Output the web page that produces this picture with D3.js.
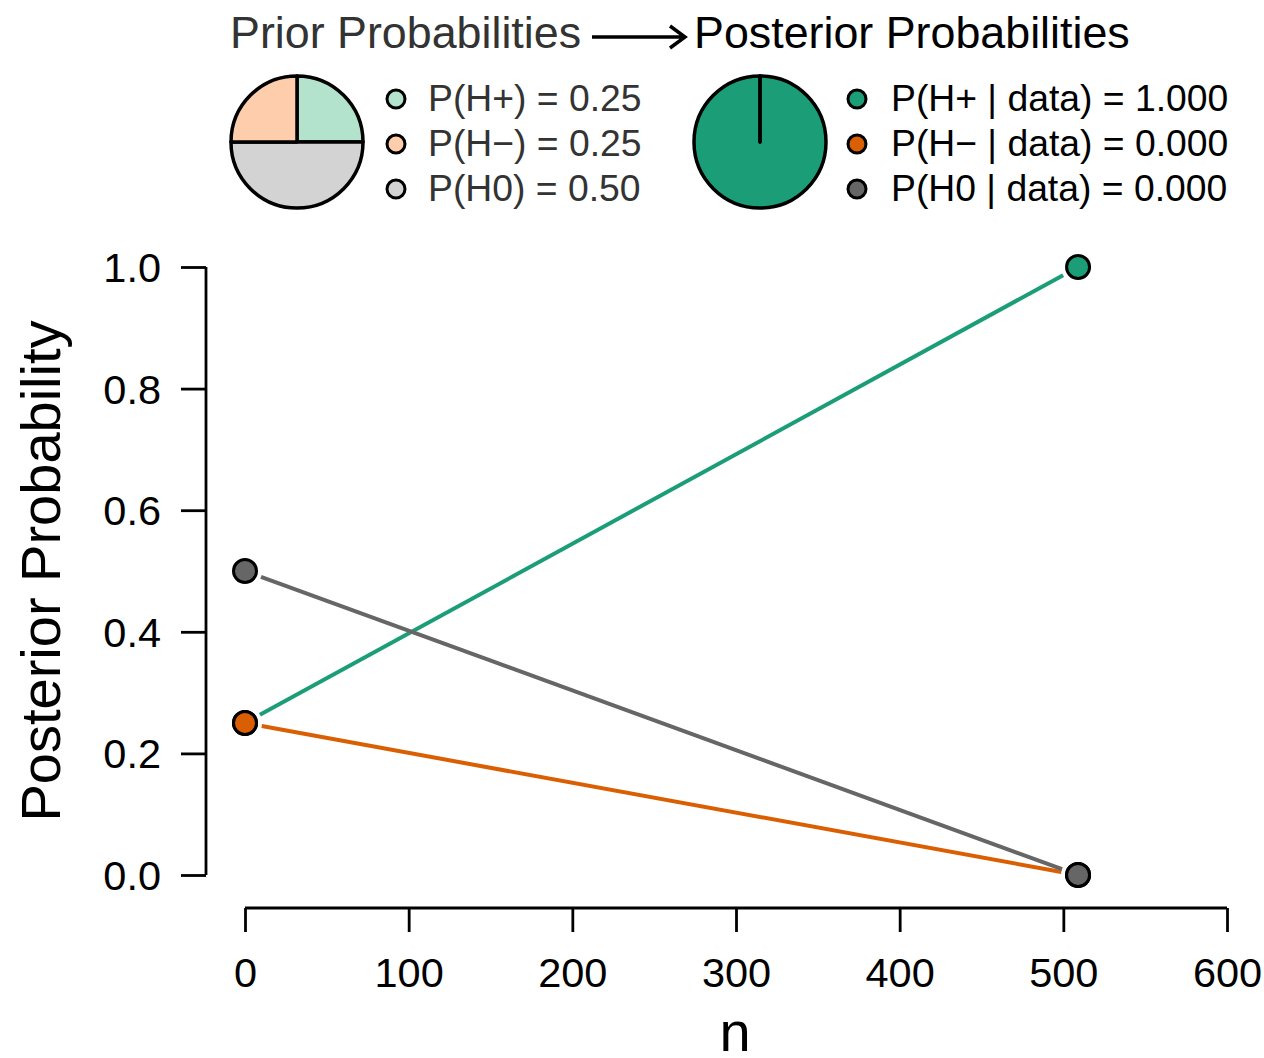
<!DOCTYPE html>
<html>
<head>
<meta charset="utf-8">
<script src="https://cdn.jsdelivr.net/npm/d3@7"></script>
<style>
  body { margin: 0; background: #fff; }
  text { font-family: "Liberation Sans", Arial, sans-serif; }
</style>
</head>
<body>
<svg width="1264" height="1058"></svg>
<script>
// the data
var hypotheses = ["H+", "H\u2212", "H0"];
var nValues = [0, 509];
var probHplus = [0.25, 1.0];
var probHminus = [0.25, 0.0];
var probH0 = [0.5, 0.0];
var darkColors = ["#1b9e77", "#d95f02", "#666666"];
var lightColors = ["#b3e2cd", "#fdcdac", "#d3d3d3"];
var xTicks = [0, 100, 200, 300, 400, 500, 600];
var yTicks = [0, 0.2, 0.4, 0.6, 0.8, 1.0];

var series = [probHplus, probHminus, probH0];

var svg = d3.select("svg"),
  width = +svg.attr("width"),
  height = +svg.attr("height");

// scales
var x = d3.scaleLinear().domain([0, 600]).range([245, 1227]);
var y = d3.scaleLinear().domain([0, 1]).range([875, 267]);

// y axis
var yAxis = svg.append("g")
  .attr("transform", "translate(206,0)")
  .call(d3.axisLeft(y).tickValues(yTicks).tickSize(25).tickPadding(20).tickFormat(d3.format(".1f")));
yAxis.select(".domain").attr("d", "M0," + y(0) + "V" + y(1)).attr("stroke-width", 2.8);
yAxis.selectAll(".tick line").attr("stroke-width", 2.8);
yAxis.selectAll(".tick text").attr("font-size", 41.5).attr("dy", "0.35em").attr("fill", "#000");

// x axis
var xAxis = svg.append("g")
  .attr("transform", "translate(0,908)")
  .call(d3.axisBottom(x).tickValues(xTicks).tickSize(24).tickPadding(26));
xAxis.select(".domain").attr("d", "M" + x(0) + ",0H" + x(600)).attr("stroke-width", 2.8);
xAxis.selectAll(".tick line").attr("stroke-width", 2.8);
xAxis.selectAll(".tick text").attr("font-size", 41.5).attr("fill", "#000");

// axis titles
svg.append("text")
  .attr("transform", "translate(60,571) rotate(-90)")
  .attr("text-anchor", "middle")
  .attr("font-size", 56)
  .text("Posterior Probability");

svg.append("text")
  .attr("x", x(300) - 1)
  .attr("y", 1051)
  .attr("text-anchor", "middle")
  .attr("font-size", 56)
  .text("n");

// lines with gaps near the points (like type = "b")
var gap = 17;
series.forEach(function(s, i) {
  var x0 = x(nValues[0]), y0 = y(s[0]), x1 = x(nValues[1]), y1 = y(s[1]);
  var len = Math.hypot(x1 - x0, y1 - y0);
  var ux = (x1 - x0) / len, uy = (y1 - y0) / len;
  svg.append("line")
    .attr("x1", x0 + ux * gap).attr("y1", y0 + uy * gap)
    .attr("x2", x1 - ux * gap).attr("y2", y1 - uy * gap)
    .attr("stroke", darkColors[i])
    .attr("stroke-width", 4);
});

// points
series.forEach(function(s, i) {
  svg.append("g").selectAll("circle")
    .data(nValues.map(function(n, j) { return [n, s[j]]; }))
    .enter().append("circle")
      .attr("cx", function(d) { return x(d[0]); })
      .attr("cy", function(d) { return y(d[1]); })
      .attr("r", 11.5)
      .attr("fill", darkColors[i])
      .attr("stroke", "#000")
      .attr("stroke-width", 3);
});

// header: titles and arrow
svg.append("text")
  .attr("x", 230).attr("y", 48)
  .attr("font-size", 44.8)
  .attr("fill", "#333")
  .text("Prior Probabilities");

svg.append("text")
  .attr("x", 694).attr("y", 48)
  .attr("font-size", 44.8)
  .attr("fill", "#000")
  .text("Posterior Probabilities");

svg.append("path")
  .attr("d", "M592,37H684M670,26L685,37L670,48")
  .attr("fill", "none")
  .attr("stroke", "#000")
  .attr("stroke-width", 3.5);

// pies (slices clockwise from the top: H+, H0, H-)
var pieOrder = [0, 2, 1];
var pie = d3.pie().sort(null).value(function(d) { return d.value; });
var arc = d3.arc().innerRadius(0).outerRadius(66);

function drawPie(cx, cy, values, colors) {
  var data = pieOrder.map(function(k) { return { value: values[k], color: colors[k] }; });
  svg.append("g")
    .attr("transform", "translate(" + cx + "," + cy + ")")
    .selectAll("path")
    .data(pie(data))
    .enter().append("path")
      .attr("d", arc)
      .attr("fill", function(d) { return d.data.color; })
      .attr("stroke", "#000")
      .attr("stroke-width", 3.5)
      .attr("stroke-linejoin", "round");
}

var priorValues = series.map(function(s) { return s[0]; });
var postValues = series.map(function(s) { return s[1]; });

drawPie(297, 142, priorValues, lightColors);
drawPie(760, 142, postValues, darkColors);

// legends
var fmt2 = d3.format(".2f"), fmt3 = d3.format(".3f");
var legendY = [99, 144, 189];

var priorLegend = svg.append("g");
priorLegend.selectAll("circle")
  .data(hypotheses)
  .enter().append("circle")
    .attr("cx", 396)
    .attr("cy", function(d, i) { return legendY[i]; })
    .attr("r", 9)
    .attr("fill", function(d, i) { return lightColors[i]; })
    .attr("stroke", "#000")
    .attr("stroke-width", 3);
priorLegend.selectAll("text")
  .data(hypotheses)
  .enter().append("text")
    .attr("x", 428)
    .attr("y", function(d, i) { return legendY[i] + 12; })
    .attr("font-size", 37.3)
    .attr("fill", "#333")
    .text(function(d, i) { return "P(" + d + ") = " + fmt2(priorValues[i]); });

var postLegend = svg.append("g");
postLegend.selectAll("circle")
  .data(hypotheses)
  .enter().append("circle")
    .attr("cx", 857)
    .attr("cy", function(d, i) { return legendY[i]; })
    .attr("r", 9)
    .attr("fill", function(d, i) { return darkColors[i]; })
    .attr("stroke", "#000")
    .attr("stroke-width", 3);
postLegend.selectAll("text")
  .data(hypotheses)
  .enter().append("text")
    .attr("x", 891)
    .attr("y", function(d, i) { return legendY[i] + 12; })
    .attr("font-size", 37.3)
    .attr("fill", "#000")
    .text(function(d, i) { return "P(" + d + " | data) = " + fmt3(postValues[i]); });
</script>
</body>
</html>
